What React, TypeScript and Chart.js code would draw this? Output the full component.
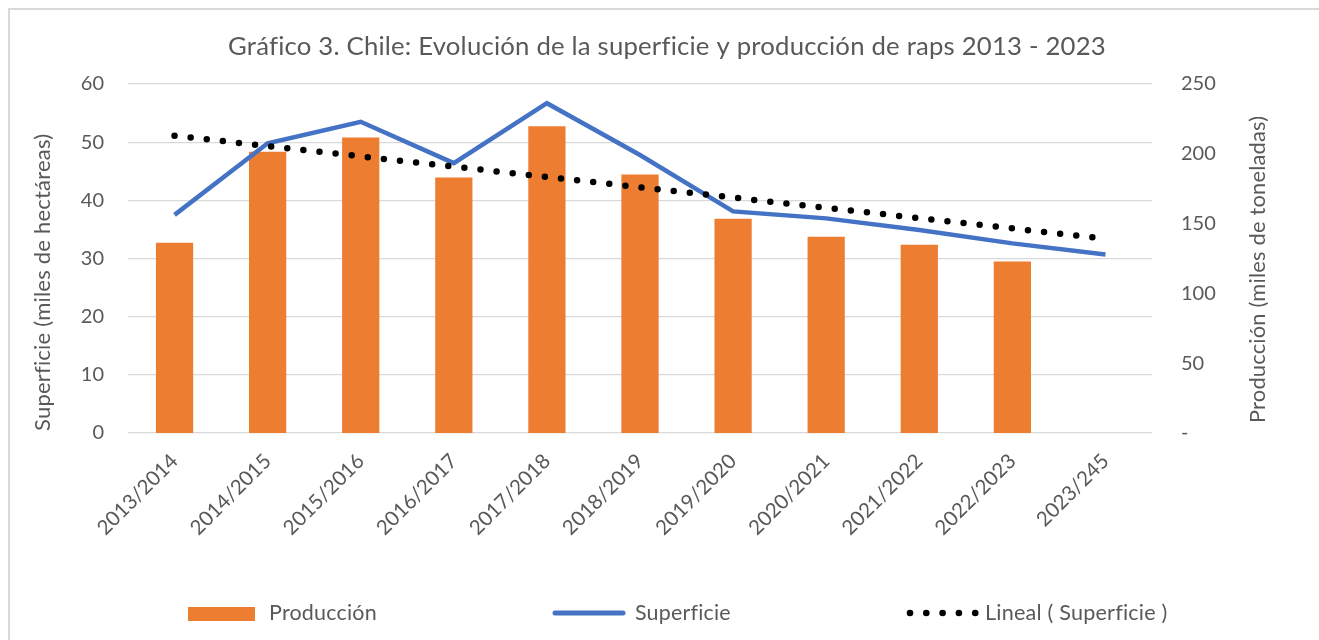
import React, { useEffect, useRef } from "react";
import { Chart, registerables } from "chart.js";

Chart.register(...registerables);

const categories = [
  "2013/2014", "2014/2015", "2015/2016", "2016/2017", "2017/2018", "2018/2019",
  "2019/2020", "2020/2021", "2021/2022", "2022/2023", "2023/245",
];
// Producción (miles de toneladas) — right axis
const produccion = [136.3, 201.5, 211.7, 183.1, 219.8, 185.2, 153.5, 140.6, 134.9, 122.8, null];
// Superficie (miles de hectáreas) — left axis
const superficie = [37.5, 49.8, 53.5, 46.4, 56.7, 47.8, 38.1, 36.9, 34.9, 32.6, 30.7];
// Lineal ( Superficie ): trend line value at first and last category
const linealEnds = [51.1, 33.4];

const superficieTicks = [0, 10, 20, 30, 40, 50, 60];
const produccionTicks = [0, 50, 100, 150, 200, 250];
const produccionTickLabels = ["-", "50", "100", "150", "200", "250"];

const titleText = "Gráfico 3. Chile: Evolución de la superficie y producción de raps 2013 - 2023";
const leftTitle = "Superficie (miles de hectáreas)";
const rightTitle = "Producción (miles de toneladas)";
const legendLabels = ["Producción", "Superficie", "Lineal ( Superficie )"];

const FONT = "Lato";
const TEXT = "#595959";
const ORANGE = "#ED7D31";
const BLUE = "#4472C4";

const textPlugin = {
  id: "customText",
  afterDraw(chart: any) {
    const ctx: any = chart.ctx;
    ctx.save();
    try {
      ctx.letterSpacing = "0.2px";
    } catch (e) {}
    const fit = (t: string, target: number) => {
      ctx.font = `20px ${FONT}`;
      const w = ctx.measureText(t).width;
      return (20 * target) / w;
    };
    ctx.fillStyle = TEXT;
    ctx.textBaseline = "alphabetic";
    ctx.textAlign = "left";

    // Title
    let s = fit(titleText, 883);
    ctx.font = `${s}px ${FONT}`;
    ctx.fillText(titleText, 218, 45);

    // Left axis title
    s = fit(leftTitle, 298);
    ctx.save();
    ctx.translate(40, 421);
    ctx.rotate(-Math.PI / 2);
    ctx.font = `${s}px ${FONT}`;
    ctx.fillText(leftTitle, 0, 0);
    ctx.restore();

    // Right axis title
    s = fit(rightTitle, 308);
    ctx.save();
    ctx.translate(1255, 413);
    ctx.rotate(-Math.PI / 2);
    ctx.font = `${s}px ${FONT}`;
    ctx.fillText(rightTitle, 0, 0);
    ctx.restore();

    // Legend
    const ly = 603;
    ctx.fillStyle = ORANGE;
    ctx.fillRect(178, 597, 67, 14);
    ctx.fillStyle = TEXT;
    s = fit(legendLabels[0], 108);
    ctx.font = `${s}px ${FONT}`;
    ctx.fillText(legendLabels[0], 259, 610);

    ctx.strokeStyle = BLUE;
    ctx.lineWidth = 5;
    ctx.lineCap = "round";
    ctx.beginPath();
    ctx.moveTo(545, ly);
    ctx.lineTo(613, ly);
    ctx.stroke();
    s = fit(legendLabels[1], 96);
    ctx.font = `${s}px ${FONT}`;
    ctx.fillText(legendLabels[1], 625, 610);

    ctx.fillStyle = "#000";
    for (let i = 0; i < 5; i++) {
      ctx.beginPath();
      ctx.arc(900 + i * 16.3, ly, 3.3, 0, Math.PI * 2);
      ctx.fill();
    }
    ctx.fillStyle = TEXT;
    s = fit(legendLabels[2], 183);
    ctx.font = `${s}px ${FONT}`;
    ctx.fillText(legendLabels[2], 975, 610);

    ctx.restore();
  },
};

export default function App() {
  const ref = useRef<HTMLCanvasElement | null>(null);

  useEffect(() => {
    if (!ref.current) return;
    const tickFont = { family: FONT, size: 20 };
    const chart = new Chart(ref.current, {
      type: "bar",
      data: {
        labels: categories,
        datasets: [
          {
            type: "line",
            label: legendLabels[2],
            data: [
              { x: categories[0], y: linealEnds[0] },
              { x: categories[categories.length - 1], y: linealEnds[1] },
            ] as any,
            yAxisID: "y",
            borderColor: "#000000",
            borderWidth: 6.5,
            borderDash: [0, 16.2],
            borderCapStyle: "round",
            pointRadius: 0,
            fill: false,
            order: 0,
          },
          {
            type: "line",
            label: legendLabels[1],
            data: superficie,
            yAxisID: "y",
            borderColor: BLUE,
            borderWidth: 4.5,
            pointRadius: 0,
            tension: 0,
            fill: false,
            borderJoinStyle: "miter",
            order: 1,
          },
          {
            type: "bar",
            label: legendLabels[0],
            data: produccion,
            yAxisID: "y1",
            backgroundColor: ORANGE,
            barPercentage: 0.4,
            categoryPercentage: 1,
            order: 2,
          },
        ] as any,
      },
      options: {
        responsive: false,
        animation: false,
        devicePixelRatio: 1,
        layout: { padding: { top: 74, left: 0, right: 0, bottom: 0 } },
        plugins: {
          legend: { display: false },
          title: { display: false },
          tooltip: { enabled: false },
        },
        scales: {
          x: {
            grid: { display: false, drawTicks: false },
            border: { display: false },
            ticks: {
              font: { family: FONT, size: 20.5 },
              color: TEXT,
              maxRotation: 45,
              minRotation: 45,
              padding: 16,
              autoSkip: false,
            },
            afterFit: (s: any) => {
              s.height = 207;
            },
          },
          y: {
            position: "left",
            min: 0,
            max: 60,
            afterBuildTicks: (s: any) => {
              s.ticks = superficieTicks.map((v) => ({ value: v }));
            },
            grid: { color: "#D9D9D9", lineWidth: 1.3, drawTicks: false },
            border: { display: false },
            ticks: { font: tickFont, color: TEXT, padding: 24 },
            afterFit: (s: any) => {
              s.width = 118;
            },
          },
          y1: {
            position: "right",
            min: 0,
            max: 250,
            afterBuildTicks: (s: any) => {
              s.ticks = produccionTicks.map((v) => ({ value: v }));
            },
            grid: { display: false, drawTicks: false },
            border: { display: false },
            ticks: {
              font: tickFont,
              color: TEXT,
              padding: 29,
              callback: (_v: any, i: number) => produccionTickLabels[i],
            },
            afterFit: (s: any) => {
              s.width = 167;
            },
          },
        },
      } as any,
      plugins: [textPlugin],
    });
    return () => chart.destroy();
  }, []);

  return (
    <div
      style={{
        position: "fixed",
        left: 8,
        top: 8,
        width: 1311,
        height: 632,
        boxSizing: "border-box",
        borderTop: "2px solid #D9D9D9",
        borderLeft: "2px solid #D9D9D9",
        background: "#fff",
        overflow: "hidden",
      }}
    >
      <canvas ref={ref} width={1309} height={630} style={{ display: "block", width: 1309, height: 630 }} />
    </div>
  );
}
